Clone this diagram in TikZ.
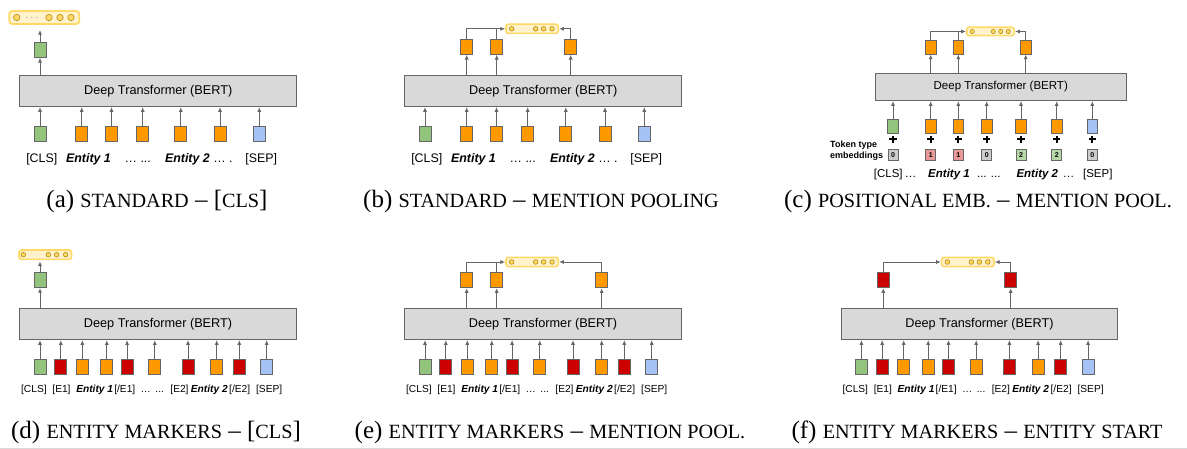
\documentclass[tikz,border=0pt]{standalone}
\usepackage{fontspec}
\setmainfont{Liberation Serif}
\newfontfamily\sansf{Liberation Sans}
\usetikzlibrary{arrows.meta}
\definecolor{tgreen}{HTML}{93C47D}
\definecolor{torange}{HTML}{FF9900}
\definecolor{tred}{HTML}{CC0000}
\definecolor{tblue}{HTML}{A4C2F4}
\definecolor{bgray}{HTML}{D9D9D9}
\definecolor{lgray}{HTML}{666666}
\definecolor{vfill}{HTML}{FFF2CC}
\definecolor{vedge}{HTML}{FFD966}
\definecolor{cfill}{HTML}{FFD966}
\definecolor{cedge}{HTML}{B28A10}
\definecolor{egray}{HTML}{CCCCCC}
\definecolor{epink}{HTML}{EA9999}
\definecolor{egreen}{HTML}{B6D7A8}
\newcommand{\sct}[1]{{\fontsize{20.2}{21}\selectfont #1}}
\tikzset{
  tok/.style={draw=lgray, line width=0.9pt, inner sep=0pt, minimum width=12pt, minimum height=15pt},
  bert/.style={draw=lgray, fill=bgray, line width=1.1pt, inner sep=0pt, font=\sansf\fontsize{12.7}{14}\selectfont},
  lab/.style={font=\sansf\fontsize{12.4}{14}\selectfont, anchor=base, inner sep=0pt},
  labs/.style={font=\sansf\fontsize{10.2}{12}\selectfont, anchor=base, inner sep=0pt},
  labc/.style={font=\sansf\fontsize{11.5}{13}\selectfont, anchor=base, inner sep=0pt},
  arr/.style={draw=lgray, line width=0.95pt, -{Latex[length=4.8pt,width=4.2pt]}},
  plain/.style={draw=lgray, line width=0.95pt},
  vecbox/.style={draw=vedge, fill=vfill, line width=1.6pt, rounded corners=2.5pt, inner sep=0pt},
  cdot/.style={circle, draw=cedge, fill=cfill, line width=0.6pt, inner sep=0pt, minimum size=4.6pt},
  embbox/.style={draw=lgray, line width=0.8pt, inner sep=0pt, minimum width=10pt, minimum height=11.5pt, font=\sansf\bfseries\fontsize{7}{8}\selectfont},
  pluss/.style={draw=black, line width=2.1pt},
  capt/.style={font=\fontsize{25}{27}\selectfont, anchor=base, inner sep=0pt}
}
% bottom part of the first row (panels a, b)
\newcommand{\rowone}[1]{%
  \node[bert, minimum width=276.7pt, minimum height=30.7pt, anchor=north west] (#1B) at (0,75.3) {Deep Transformer (BERT)};
  \foreach \i/\x/\c in {1/20.7/tgreen,2/62.4/torange,3/92.2/torange,4/123.4/torange,5/161.5/torange,6/200.7/torange,7/240/tblue}{%
    \node[tok, fill=\c] (#1T\i) at (\x,133.8) {};
    \draw[arr] (#1T\i.north) -- (#1T\i.north |- #1B.south);}
  \node[lab] (#1L1) at (22.5,162.3) {[CLS]};
  \node[lab] (#1L2) at (69.2,162.3) {\bfseries\itshape Entity 1};
  \node[lab] (#1L3) at (118.5,162.3) {… ...};
  \node[lab] (#1L4) at (179.5,162.3) {{\bfseries\itshape Entity 2} … .};
  \node[lab] (#1L5) at (242,162.3) {[SEP]};
}
% bottom part of the second row (panels d, e, f)
\newcommand{\rowtwo}[1]{%
  \node[bert, minimum width=276.4pt, minimum height=30.7pt, anchor=north west] (#1B) at (0,308.3) {Deep Transformer (BERT)};
  \foreach \i/\x/\c in {1/20.7/tgreen,2/41.5/tred,3/63/torange,4/87.5/torange,5/107.8/tred,6/135.5/torange,7/168.7/tred,8/197.4/torange,9/220/tred,10/247.4/tblue}{%
    \node[tok, fill=\c] (#1T\i) at (\x,366.8) {};
    \draw[arr] (#1T\i.north) -- (#1T\i.north |- #1B.south);}
  \node[labs] (#1L1) at (14.6,392.7) {[CLS]};
  \node[labs] (#1L2) at (42.2,392.7) {[E1]};
  \node[labs] (#1L3) at (75.4,392.7) {\bfseries\itshape Entity 1};
  \node[labs] (#1L4) at (105.5,392.7) {[/E1]};
  \node[labs] (#1L5) at (126.5,392.7) {…};
  \node[labs] (#1L6) at (140.4,392.7) {...};
  \node[labs] (#1L7) at (160.2,392.7) {[E2]};
  \node[labs] (#1L8) at (190,392.7) {\bfseries\itshape Entity 2};
  \node[labs] (#1L9) at (220.4,392.7) {[/E2]};
  \node[labs] (#1L10) at (249.9,392.7) {[SEP]};
}
% pooled vector: name, centre x, centre y
\newcommand{\pooled}[3]{%
  \node[vecbox, minimum width=52.4pt, minimum height=9.3pt] (#1) at (#2,#3) {};
  \node[cdot] (#1c1) at ([xshift=-20.5pt]#1.center) {};
  \node[cdot] (#1c2) at ([xshift=3.5pt]#1.center) {};
  \node[cdot] (#1c3) at ([xshift=11.5pt]#1.center) {};
  \node[cdot] (#1c4) at ([xshift=19.9pt]#1.center) {};
}
\begin{document}
\begin{tikzpicture}[x=1pt,y=-1pt]
\useasboundingbox (0,0) rectangle (1187,449);

% ---------------- (a)
\begin{scope}[shift={(19.3,0)}]
  \rowone{a}
  \node[tok, fill=tgreen] (aU) at (20.7,49.8) {};
  \draw[arr] (aU.south |- aB.north) -- (aU.south);
  \node[vecbox, minimum width=70pt, minimum height=13pt, line width=1.8pt, rounded corners=3pt] (aV) at (25,17.5) {};
  \node[cdot, minimum size=6.4pt] (aVc1) at (-2.6,17.5) {};
  \node[cdot, minimum size=6.4pt] (aVc2) at (29.7,17.5) {};
  \node[cdot, minimum size=6.4pt] (aVc3) at (40.7,17.5) {};
  \node[cdot, minimum size=6.4pt] (aVc4) at (51.7,17.5) {};
  \foreach \d in {7.4,12.4,17.4}{\fill[gray!70] (\d,17.5) circle (0.6pt);}
  \draw[arr, shorten >=5pt] (aU.north) -- (aU.north |- aV.south);
\end{scope}
\node[capt] (capA) at (157,208) {(a) \sct{STANDARD} – [\sct{CLS}]};

% ---------------- (b)
\begin{scope}[shift={(404.3,0)}]
  \rowone{b}
  \foreach \i/\x in {1/62.4,2/92.4,3/166.4}{%
    \node[tok, fill=torange] (bU\i) at (\x,46.8) {};
    \draw[arr] (bU\i.south |- bB.north) -- (bU\i.south);}
  \pooled{bV}{127.85}{28.8}
  \draw[arr] (bU1.north) |- (bV.west);
  \draw[plain] (bU2.north) -- (bU2.north |- bV.west);
  \draw[arr] (bU3.north) |- (bV.east);
\end{scope}
\node[capt] (capB) at (541,208) {(b) \sct{STANDARD} – \sct{MENTION POOLING}};

% ---------------- (c)
\node[bert, minimum width=251pt, minimum height=27.3pt, anchor=north west, font=\sansf\fontsize{11.5}{13}\selectfont] (cB) at (874.7,72.7) {Deep Transformer (BERT)};
\foreach \i/\x/\c/\e/\n in {1/893/tgreen/egray/0,2/930.7/torange/epink/1,3/958.3/torange/epink/1,4/986.7/torange/egray/0,5/1021/torange/egreen/2,6/1056.7/torange/egreen/2,7/1092.3/tblue/egray/0}{%
  \node[tok, fill=\c, minimum width=10.7pt, minimum height=14pt] (cT\i) at (\x,126.3) {};
  \draw[arr] (cT\i.north) -- (cT\i.north |- cB.south);
  \draw[pluss] (\x-3.7,139.3) -- (\x+3.7,139.3) (\x,135.6) -- (\x,143);
  \node[embbox, fill=\e] (cE\i) at (\x,154.7) {\n};
}
\node[font=\sansf\bfseries\fontsize{9}{10}\selectfont, anchor=base west, inner sep=0pt] (cTT1) at (830,147.2) {Token type};
\node[font=\sansf\bfseries\fontsize{9}{10}\selectfont, anchor=base west, inner sep=0pt] (cTT2) at (830,158.3) {embeddings};
\node[labc] (cL1) at (888.3,177.5) {[CLS]};
\node[labc] (cL2) at (910.5,177.5) {…};
\node[labc] (cL3) at (949,177.5) {\bfseries\itshape Entity 1};
\node[labc] (cL4) at (988.8,177.5) {... ...};
\node[labc] (cL5) at (1037.3,177.5) {\bfseries\itshape Entity 2};
\node[labc] (cL6) at (1068.5,177.5) {…};
\node[labc] (cL7) at (1097.8,177.5) {[SEP]};
\foreach \i/\x in {1/930.7,2/958.3,3/1025.7}{%
  \node[tok, fill=torange, minimum width=10.7pt, minimum height=14pt] (cU\i) at (\x,47) {};
  \draw[arr] (cU\i.south |- cB.north) -- (cU\i.south);}
\node[vecbox, minimum width=47.6pt, minimum height=8.4pt] (cV) at (990.5,31.5) {};
\foreach \i/\x in {1/972.3,2/993.3,3/1000.7,4/1008.3}{\node[cdot, minimum size=4.2pt] (cVc\i) at (\x,31.5) {};}
\draw[arr] (cU1.north) |- (cV.west);
\draw[plain] (cU2.north) -- (cU2.north |- cV.west);
\draw[arr] (cU3.north) |- (cV.east);
\node[capt] (capC) at (978,208) {(c) \sct{POSITIONAL EMB.} – \sct{MENTION POOL.}};

% ---------------- (d)
\begin{scope}[shift={(19.3,0)}]
  \rowtwo{d}
  \node[tok, fill=tgreen] (dU) at (20.7,280) {};
  \draw[arr] (dU.south |- dB.north) -- (dU.south);
  \node[vecbox, minimum width=52.7pt, minimum height=9.3pt] (dV) at (26,254.7) {};
  \foreach \i/\x in {1/4,2/29,3/37.4,4/46.4}{\node[cdot] (dVc\i) at (\x,254.7) {};}
  \draw[arr, shorten >=1.2pt] (dU.north) -- (dU.north |- dV.south);
\end{scope}
\node[capt] (capD) at (156,438) {(d) \sct{ENTITY MARKERS} – [\sct{CLS}]};

% ---------------- (e)
\begin{scope}[shift={(404.3,0)}]
  \rowtwo{e}
  \foreach \i/\x in {1/62.4,2/92.4,3/197.4}{%
    \node[tok, fill=torange] (eU\i) at (\x,280.2) {};
    \draw[arr] (eU\i.south |- eB.north) -- (eU\i.south);}
  \pooled{eV}{127.85}{262}
  \draw[arr] (eU1.north) |- (eV.west);
  \draw[plain] (eU2.north) -- (eU2.north |- eV.west);
  \draw[arr] (eU3.north) |- (eV.east);
\end{scope}
\node[capt] (capE) at (550,438) {(e) \sct{ENTITY MARKERS} – \sct{MENTION POOL.}};

% ---------------- (f)
\begin{scope}[shift={(840.7,0)}]
  \rowtwo{f}
  \foreach \i/\x in {1/42.6,2/170}{%
    \node[tok, fill=tred] (fU\i) at (\x,280.2) {};
    \draw[arr] (fU\i.south |- fB.north) -- (fU\i.south);}
  \pooled{fV}{127.15}{262}
  \draw[arr] (fU1.north) |- (fV.west);
  \draw[arr] (fU2.north) |- (fV.east);
\end{scope}
\node[capt] (capF) at (977,438) {(f) \sct{ENTITY MARKERS} – \sct{ENTITY START}};

% page edge line
\fill[black!15] (0,447.6) rectangle (1187,449);
\end{tikzpicture}
\end{document}
